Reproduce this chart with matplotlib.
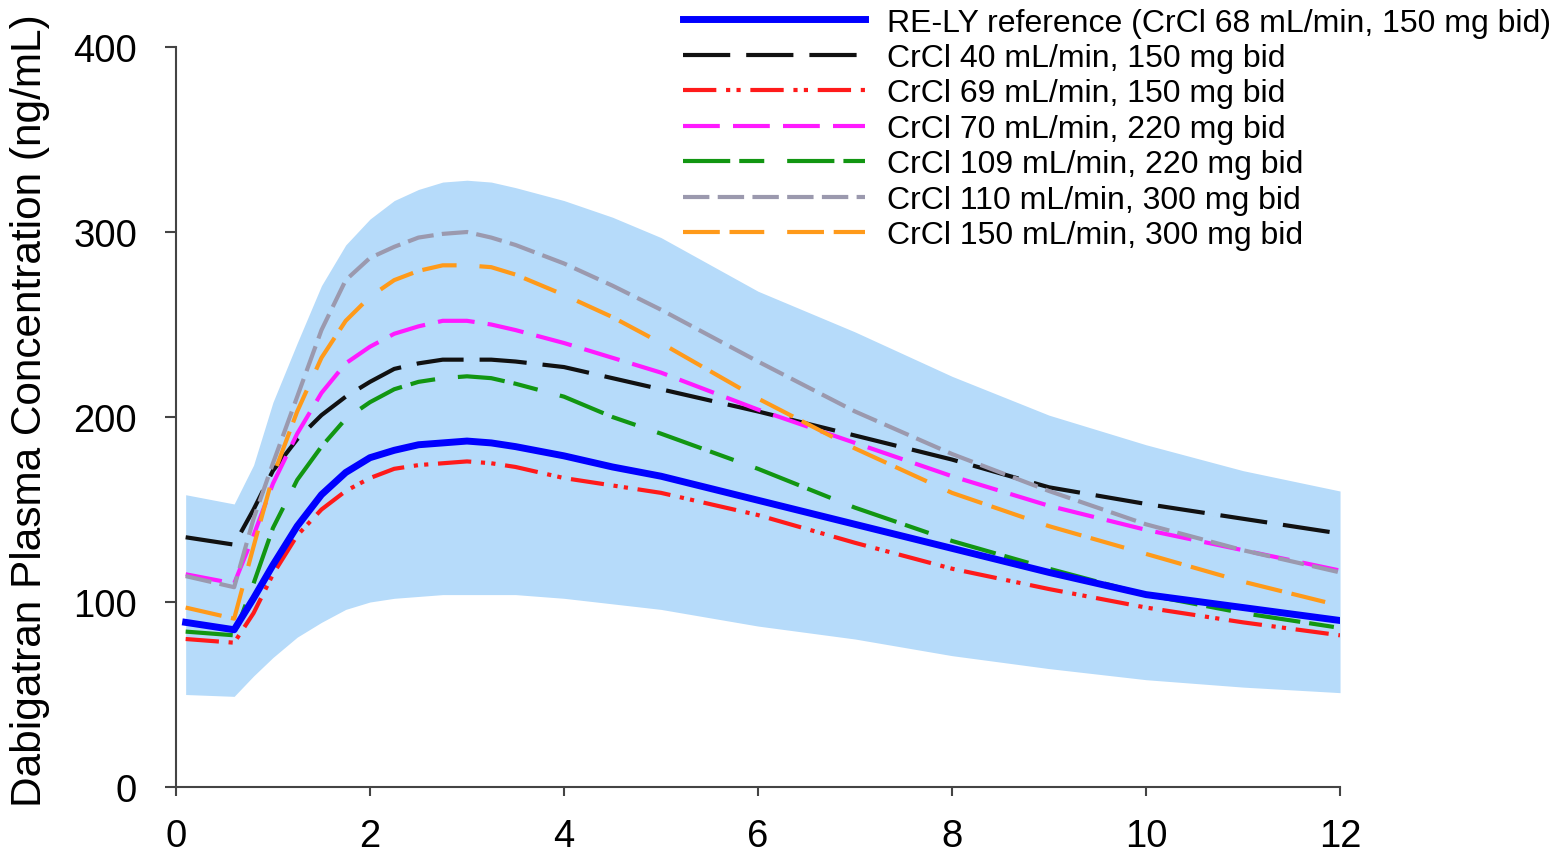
import matplotlib
matplotlib.use("Agg")
import matplotlib.pyplot as plt

plt.rcParams['font.family'] = ['Liberation Sans', 'DejaVu Sans']
plt.rcParams['lines.scale_dashes'] = False

# time after dose (h)
hours = [0.1, 0.6, 0.8, 1.0, 1.25, 1.5, 1.75, 2.0, 2.25, 2.5, 2.75, 3.0,
         3.25, 3.5, 4.0, 4.5, 5.0, 6.0, 7.0, 8.0, 9.0, 10.0, 11.0, 12.0]

# 90% prediction band of the RE-LY reference
band_low = [50, 49, 60, 70, 81, 89, 96, 100, 102, 103, 104, 104,
            104, 104, 102, 99, 96, 87, 80, 71, 64, 58, 54, 51]
band_high = [158, 153, 174, 208, 240, 271, 293, 307, 317, 323, 327, 328,
             327, 324, 317, 308, 297, 268, 246, 222, 201, 185, 171, 160]

rely_ref = [89, 85, 102, 120, 141, 158, 170, 178, 182, 185, 186, 187,
            186, 184, 179, 173, 168, 155, 142, 129, 116, 104, 97, 90]
crcl40_150 = [135, 131, 150, 171, 188, 201, 211, 219, 226, 229, 231, 231,
              231, 230, 227, 221, 215, 203, 190, 177, 162, 153, 145, 137]
crcl69_150 = [80, 78, 94, 115, 136, 150, 160, 167, 172, 174, 175, 176,
              175, 173, 167, 163, 159, 147, 132, 118, 107, 97, 89, 82]
crcl70_220 = [115, 110, 136, 164, 191, 213, 229, 238, 245, 249, 252, 252,
              250, 247, 240, 232, 224, 204, 186, 168, 152, 139, 128, 117]
crcl109_220 = [84, 82, 110, 140, 166, 184, 199, 208, 215, 219, 221, 222,
               221, 218, 211, 200, 191, 172, 151, 133, 118, 104, 94, 86]
crcl110_300 = [114, 108, 145, 175, 211, 247, 274, 286, 292, 297, 299, 300,
               297, 293, 283, 271, 258, 230, 203, 180, 160, 142, 128, 116]
crcl150_300 = [97, 91, 130, 168, 203, 232, 252, 265, 274, 279, 282, 282,
               281, 277, 266, 254, 240, 210, 183, 159, 141, 126, 111, 98]

labels = ['RE-LY reference (CrCl 68 mL/min, 150 mg bid)',
          'CrCl 40 mL/min, 150 mg bid',
          'CrCl 69 mL/min, 150 mg bid',
          'CrCl 70 mL/min, 220 mg bid',
          'CrCl 109 mL/min, 220 mg bid',
          'CrCl 110 mL/min, 300 mg bid',
          'CrCl 150 mL/min, 300 mg bid']

series = [rely_ref, crcl40_150, crcl69_150, crcl70_220,
          crcl109_220, crcl110_300, crcl150_300]
colors = ['#0000ff', '#111111', '#ff1a1a', '#ff1aff', '#129612', '#9b99ae', '#ff9a1a']
widths = [5, 3, 3, 3, 3, 3, 3]
dashes = [None,
          (0, (34, 11.5)),
          (0, (24, 7, 3, 4.5, 3, 7)),
          (0, (26.5, 9.5)),
          (0, (34, 6.5, 18, 16.5)),
          (0, (19, 6)),
          (0, (26.5, 7, 25, 16.5))]

fig = plt.figure(figsize=(15.64, 8.53), dpi=100)
ax = fig.add_axes([0.1125, 0.0762, 0.7443, 0.8675])

ax.fill_between(hours, band_low, band_high, color='#b6dbfa', lw=0, zorder=1)

handles = []
for vals, col, lw, ds, lab in zip(series, colors, widths, dashes, labels):
    if ds is None:
        h, = ax.plot(hours, vals, color=col, lw=lw, label=lab, zorder=3)
    else:
        h, = ax.plot(hours, vals, color=col, lw=lw, linestyle=ds, label=lab, zorder=2)
    handles.append(h)

ax.set_xlim(0, 12)
ax.set_ylim(0, 400)
ax.set_xticks(range(0, 13, 2))
ax.set_yticks(range(0, 401, 100))

for s in ['top', 'right']:
    ax.spines[s].set_visible(False)
for s in ['left', 'bottom']:
    ax.spines[s].set_color('#444444')
    ax.spines[s].set_linewidth(1.5)

ax.tick_params(axis='x', direction='out', length=6.5, width=1.5, color='#444444',
               pad=16, labelsize=27.5)
ax.tick_params(axis='y', direction='out', length=8, width=1.5, color='#444444',
               pad=20, labelsize=27.5)

fig.text(0.019, 0.519, 'Dabigatran Plasma Concentration (ng/mL)', rotation=90,
         ha='center', va='center', fontsize=30.5)

fig.legend(handles=handles, loc='upper left', bbox_to_anchor=(0.4367, 0.990),
           frameon=False, fontsize=23, handlelength=5.7, handletextpad=0.7,
           labelspacing=0.17, borderpad=0, borderaxespad=0)

fig.savefig('out.png', dpi=100)
